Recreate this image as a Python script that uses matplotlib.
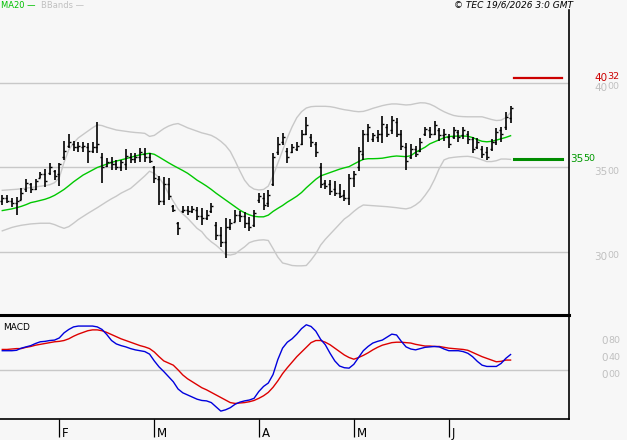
import numpy as np
import matplotlib
matplotlib.use('Agg')
import matplotlib.pyplot as plt

plt.rcParams['font.family'] = ['DejaVu Sans']

# ---------------- data ----------------
highs = [3337,3337,3317,3327,3376,3432,3406,3432,3475,3491,
         3524,3485,3528,3658,3698,3658,3652,3652,3647,3652,
         3771,3583,3554,3560,3544,3544,3607,3583,3587,3617,
         3617,3583,3511,3449,3445,3436,3278,3179,3272,3272,
         3272,3268,3258,3248,3290,3180,3150,3199,3195,3249,
         3245,3235,3209,3249,3350,3347,3365,3584,3678,3702,
         3618,3638,3652,3722,3800,3697,3653,3525,3425,3426,
         3422,3405,3367,3460,3482,3623,3722,3760,3704,3722,
         3805,3758,3806,3791,3722,3643,3638,3628,3675,3742,
         3737,3773,3732,3727,3700,3742,3722,3742,3717,3683,
         3673,3628,3620,3668,3732,3740,3830,3862]
lows = [3278,3288,3268,3219,3307,3357,3351,3367,3436,3386,
        3455,3426,3390,3544,3613,3599,3593,3593,3528,3587,
        3583,3406,3505,3485,3485,3481,3485,3524,3524,3534,
        3534,3524,3410,3278,3278,3307,3234,3100,3228,3219,
        3228,3189,3160,3189,3229,3070,3032,2963,3130,3175,
        3180,3140,3125,3150,3288,3249,3268,3390,3574,3633,
        3525,3584,3600,3633,3690,3623,3560,3377,3370,3335,
        3333,3320,3300,3278,3385,3480,3546,3653,3653,3653,
        3643,3678,3700,3680,3604,3485,3550,3560,3590,3688,
        3673,3690,3658,3658,3618,3668,3653,3668,3640,3584,
        3608,3554,3544,3600,3633,3650,3722,3761]
opens = [3300,3320,3300,3290,3310,3370,3400,3375,3440,3460,
         3470,3480,3460,3560,3630,3640,3620,3620,3620,3600,
         3620,3560,3510,3530,3520,3500,3520,3560,3550,3560,
         3580,3560,3500,3430,3300,3400,3270,3170,3240,3250,
         3240,3250,3210,3200,3240,3160,3100,3060,3150,3180,
         3220,3210,3170,3160,3310,3320,3290,3400,3590,3650,
         3600,3590,3610,3640,3700,3680,3640,3500,3410,3400,
         3370,3350,3340,3320,3440,3500,3580,3700,3670,3680,
         3700,3740,3720,3770,3700,3620,3560,3610,3600,3700,
         3720,3700,3720,3690,3680,3680,3710,3690,3700,3670,
         3620,3610,3590,3610,3650,3720,3740,3790]
closes = [3320,3300,3290,3300,3350,3410,3370,3420,3460,3420,
          3500,3450,3520,3600,3650,3620,3625,3630,3600,3620,
          3640,3500,3530,3520,3500,3530,3570,3550,3560,3590,
          3560,3540,3440,3300,3400,3330,3250,3140,3250,3240,
          3255,3210,3200,3220,3270,3100,3060,3150,3170,3220,
          3210,3170,3150,3230,3330,3280,3340,3560,3640,3680,
          3560,3620,3630,3700,3750,3650,3590,3400,3390,3360,
          3350,3330,3320,3440,3460,3600,3700,3740,3690,3700,
          3760,3700,3780,3700,3630,3540,3610,3580,3650,3730,
          3700,3750,3690,3700,3640,3720,3680,3720,3670,3610,
          3650,3580,3560,3650,3710,3700,3800,3850]
ma20 = [3245,3250,3255,3262,3270,3280,3292,3298,3305,3312,
        3322,3335,3352,3370,3392,3415,3435,3455,3470,3485,
        3500,3510,3520,3530,3538,3545,3552,3560,3568,3575,
        3580,3584,3578,3562,3545,3528,3512,3497,3482,3466,
        3446,3425,3408,3390,3370,3348,3328,3308,3288,3268,
        3248,3232,3220,3211,3208,3208,3218,3240,3258,3275,
        3295,3312,3330,3352,3380,3405,3430,3450,3460,3470,
        3480,3490,3498,3505,3520,3535,3548,3552,3552,3553,
        3555,3560,3565,3568,3566,3564,3570,3590,3605,3620,
        3640,3652,3664,3676,3683,3685,3686,3686,3685,3677,
        3665,3655,3652,3655,3662,3670,3678,3688]
bb_upper = [3365,3367,3369,3371,3374,3378,3381,3385,3389,3393,
            3398,3410,3440,3530,3605,3645,3675,3695,3715,3735,
            3752,3748,3738,3730,3722,3718,3714,3710,3707,3705,
            3702,3684,3690,3710,3730,3745,3755,3760,3748,3735,
            3725,3715,3705,3698,3690,3675,3655,3630,3595,3540,
            3480,3425,3390,3372,3367,3370,3390,3450,3525,3600,
            3675,3740,3795,3830,3852,3860,3862,3862,3862,3860,
            3855,3848,3842,3838,3833,3830,3832,3840,3850,3858,
            3866,3872,3876,3876,3873,3870,3872,3878,3883,3882,
            3875,3862,3845,3830,3818,3808,3803,3801,3800,3800,
            3800,3800,3792,3784,3778,3780,3795,3825]
bb_lower = [3125,3135,3145,3152,3158,3162,3166,3168,3170,3170,
            3170,3162,3150,3140,3150,3170,3192,3210,3228,3245,
            3262,3280,3298,3315,3330,3348,3362,3376,3400,3425,
            3450,3478,3465,3440,3400,3345,3300,3255,3225,3200,
            3170,3140,3120,3085,3060,3040,3015,2985,2982,2988,
            3010,3030,3055,3065,3070,3072,3068,3020,2970,2935,
            2928,2920,2918,2918,2920,2952,2990,3040,3075,3105,
            3135,3165,3195,3215,3240,3262,3278,3276,3274,3272,
            3270,3268,3265,3262,3258,3255,3262,3278,3300,3335,
            3375,3430,3495,3545,3556,3560,3563,3565,3566,3562,
            3555,3545,3535,3535,3540,3550,3550,3548]
macd = [0.46,0.46,0.46,0.47,0.52,0.55,0.58,0.63,0.67,0.68,
        0.70,0.71,0.76,0.88,0.96,1.02,1.04,1.04,1.04,1.04,
        1.02,0.96,0.84,0.70,0.62,0.58,0.55,0.51,0.48,0.46,
        0.44,0.38,0.22,0.08,-0.03,-0.15,-0.27,-0.44,-0.53,-0.58,
        -0.63,-0.68,-0.71,-0.72,-0.76,-0.86,-0.96,-0.93,-0.88,-0.80,
        -0.75,-0.72,-0.70,-0.66,-0.50,-0.38,-0.30,-0.10,0.25,0.52,
        0.66,0.74,0.85,0.98,1.07,1.03,0.92,0.73,0.60,0.40,
        0.22,0.10,0.06,0.05,0.14,0.30,0.46,0.56,0.64,0.68,
        0.71,0.78,0.85,0.83,0.68,0.55,0.50,0.48,0.51,0.54,
        0.55,0.56,0.55,0.50,0.46,0.46,0.46,0.44,0.40,0.32,
        0.21,0.12,0.09,0.09,0.09,0.16,0.28,0.37]
signal = [0.49,0.49,0.50,0.51,0.51,0.54,0.56,0.59,0.61,0.63,
          0.65,0.67,0.68,0.70,0.74,0.80,0.85,0.89,0.93,0.95,
          0.95,0.93,0.89,0.84,0.79,0.74,0.70,0.66,0.62,0.58,
          0.55,0.51,0.43,0.32,0.22,0.17,0.12,0.01,-0.11,-0.20,
          -0.27,-0.34,-0.41,-0.46,-0.52,-0.58,-0.64,-0.70,-0.76,-0.78,
          -0.77,-0.76,-0.74,-0.71,-0.66,-0.60,-0.52,-0.40,-0.25,-0.08,
          0.06,0.19,0.32,0.43,0.54,0.65,0.70,0.70,0.66,0.60,
          0.52,0.44,0.36,0.30,0.26,0.30,0.35,0.41,0.48,0.54,
          0.59,0.62,0.65,0.66,0.66,0.65,0.64,0.61,0.59,0.57,
          0.57,0.56,0.56,0.54,0.52,0.51,0.50,0.49,0.47,0.42,
          0.37,0.32,0.28,0.24,0.20,0.21,0.24,0.24]

month_first_bar = [12, 32, 54, 74, 94]
month_labels = ['F', 'M', 'A', 'M', 'J']
price_grid = [3000, 3500, 4000]
macd_grid = [0.0]
macd_label_values = [0.80, 0.40, 0.00]
resistance = 4032
support = 3550
legend_items = ['MA20', 'BBands']
title_right = '\u00a9 TEC 19/6/2026 3:0 GMT'

# ---------------- figure ----------------
BG = '#f7f7f7'
GRID = '#c8c8c8'
LABEL_GRAY = '#c0c0c0'
W, H = 627, 440
fig = plt.figure(figsize=(W / 100, H / 100), dpi=100, facecolor=BG)
ax = fig.add_axes([0, (H - 315) / H, 569 / W, 305 / H], facecolor=BG)
ax2 = fig.add_axes([0, (H - 419) / H, 569 / W, 104 / H], facecolor=BG)

x = np.arange(len(closes))
xlim = (-0.48, 119.3)

# ---- main price panel ----
for g in price_grid:
    ax.axhline(g, color=GRID, lw=1, zorder=1)
ax.plot(x, bb_upper, color=GRID, lw=1, zorder=2)
ax.plot(x, bb_lower, color=GRID, lw=1, zorder=2)
ax.plot(x, ma20, color='#00c800', lw=1, zorder=3)
ax.vlines(x, lows, highs, color='black', lw=1.2, zorder=4)
ax.hlines(opens, x - 0.42, x, color='black', lw=1, zorder=4)
ax.hlines(closes, x, x + 0.42, color='black', lw=1, zorder=4)

ax.axhline(resistance, xmin=514 / 569, xmax=562 / 569, color='#cc0000', lw=1.6, zorder=5)
ax.axhline(support, xmin=514 / 569, xmax=562 / 569, color='#008c00', lw=2.2, zorder=5)

ax.set_xlim(*xlim)
ax.set_ylim(2627, 4432)


def split_label(axis, v, shown, dx, dy, color):
    """Draw 'AB' with the fraction part a bit smaller and slightly raised."""
    a, b = f'{shown:.2f}'.split('.')
    axis.annotate(a, xy=(1, v), xycoords=('axes fraction', 'data'),
                  xytext=(dx, dy), textcoords='offset pixels', va='center', ha='left',
                  color=color, fontsize=7.5, annotation_clip=False)
    axis.annotate(b, xy=(1, v), xycoords=('axes fraction', 'data'),
                  xytext=(dx + 6.6 * len(a) + 0.5, dy + 1), textcoords='offset pixels',
                  va='center', ha='left', color=color, fontsize=6.8, annotation_clip=False)


for g in price_grid:
    split_label(ax, g, g / 100, 25, -5, LABEL_GRAY)
split_label(ax, resistance, resistance / 100, 25, 0, '#cc0000')
split_label(ax, support, support / 100, 1, 0, '#009900')

for s in ['left', 'top', 'bottom']:
    ax.spines[s].set_visible(False)
ax.spines['right'].set_linewidth(1.2)
ax.spines['right'].set_color('black')
ax.tick_params(left=False, bottom=False, right=False, labelleft=False, labelbottom=False)

# ---- MACD panel ----
for g in macd_grid:
    ax2.axhline(g, color=GRID, lw=1, zorder=1)
ax2.plot(x, signal, color='#dd0000', lw=1, zorder=3)
ax2.plot(x, macd, color='#0000dd', lw=1, zorder=4)
ax2.set_xlim(*xlim)
ax2.set_ylim(-1.146, 1.30)

for v in macd_label_values:
    split_label(ax2, v, v, 32, -5, LABEL_GRAY)

ax2.spines['left'].set_visible(False)
ax2.spines['top'].set_linewidth(2.2)
ax2.spines['right'].set_linewidth(1.2)
ax2.spines['bottom'].set_linewidth(1.2)
for s in ['top', 'right', 'bottom']:
    ax2.spines[s].set_color('black')
ax2.set_xticks(month_first_bar)
ax2.tick_params(axis='x', length=13, width=0.9, direction='out', color='black', labelbottom=False)
ax2.tick_params(axis='y', left=False, labelleft=False)
for xi, lab in zip(month_first_bar, month_labels):
    ax2.annotate(lab, xy=(xi, 0), xycoords=('data', 'axes fraction'),
                 xytext=(3, -18), textcoords='offset pixels', va='baseline', ha='left',
                 fontsize=8.5, color='black', annotation_clip=False)

fig.text(3 / W, 1 - 327 / H, 'MACD', fontsize=6.5, va='center', ha='left', color='black')

# ---- header ----
fig.text(1 / W, 1 - 5 / H, legend_items[0] + ' \u2014', fontsize=6, color='#00c000', va='center', ha='left')
fig.text(41 / W, 1 - 5 / H, legend_items[1] + ' \u2014', fontsize=6, color='#c0c0c0', va='center', ha='left')
fig.text(573 / W, 1 - 5 / H, title_right, fontsize=6.5, style='italic', va='center', ha='right', color='black')

fig.savefig('out.png', dpi=100, facecolor=BG)
